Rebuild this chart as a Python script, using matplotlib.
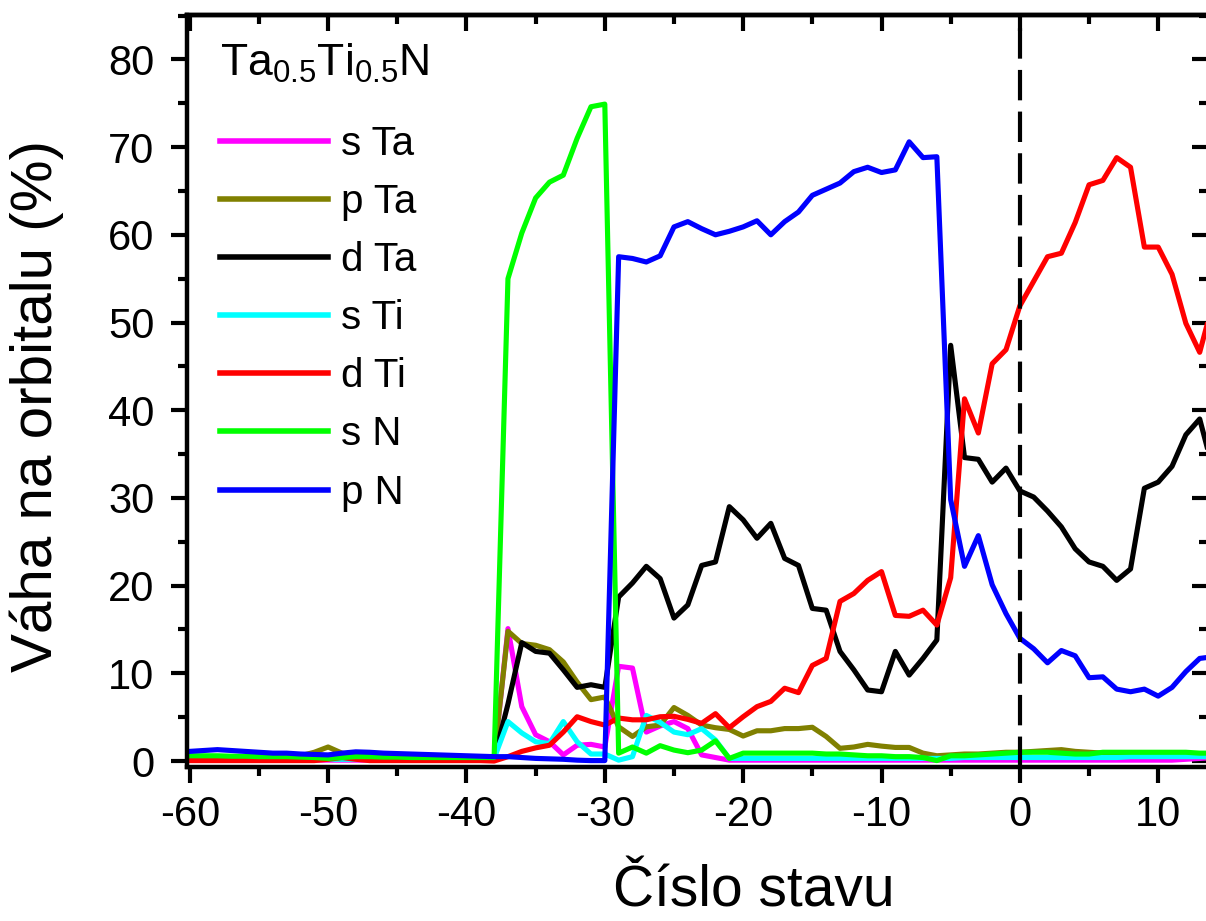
import numpy as np
import matplotlib
matplotlib.use("Agg")
import matplotlib.pyplot as plt
from matplotlib.ticker import MultipleLocator

plt.rcParams['font.family'] = ['Liberation Sans', 'DejaVu Sans']
plt.rcParams['mathtext.default'] = 'regular'
plt.rcParams['axes.unicode_minus'] = False

# state number
stav = np.arange(-60, 15)

# orbital weights (%)
# each list: states -60..-39 | -38..-21 | -20..-6 | -5..14
s_Ta = ([0.1] * 22
        + [0.2, 15.1, 6.2, 3.0, 2.2, 0.7, 1.8, 1.9, 1.6, 10.8, 10.6, 3.3, 4.0, 4.5, 3.7, 0.7, 0.4, 0.1]
        + [0.1] * 15
        + [0.1] * 17 + [0.2, 0.3, 0.4])
p_Ta = ([0.5] * 8 + [0.6, 1.0, 1.6, 0.9, 0.6] + [0.5] * 9
        + [0.4, 14.8, 13.4, 13.2, 12.7, 11.3, 9.0, 7.0, 7.3, 3.9, 2.8, 3.9, 4.1, 6.1, 5.2, 4.1, 3.8, 3.6]
        + [2.85, 3.45, 3.45, 3.7, 3.7, 3.85, 2.8, 1.45, 1.6, 1.9, 1.7, 1.55, 1.55, 0.9, 0.6]
        + [0.7, 0.8, 0.8, 0.9, 1.0, 1.0, 1.1, 1.2, 1.3, 1.1, 1.0, 0.9, 0.8, 0.8, 0.8, 0.8, 0.7, 0.7, 0.6, 0.6])
d_Ta = ([0.3] * 22
        + [0.3, 6.5, 13.5, 12.5, 12.3, 10.4, 8.4, 8.7, 8.4, 18.7, 20.3, 22.2, 20.8, 16.3, 17.8, 22.3, 22.7, 29.0]
        + [27.5, 25.4, 27.1, 23.1, 22.3, 17.4, 17.2, 12.5, 10.4, 8.1, 7.9, 12.5, 9.8, 11.7, 13.8]
        + [47.4, 34.6, 34.4, 31.8, 33.4, 30.8, 30.1, 28.5, 26.7, 24.2, 22.7, 22.2, 20.6, 21.9, 31.1,
           31.8, 33.6, 37.2, 39.0, 33.0])
s_Ti = ([0.2] * 22
        + [0.3, 4.5, 3.2, 2.2, 2.0, 4.5, 2.2, 0.8, 0.8, 0.1, 0.5, 5.2, 4.4, 3.3, 3.0, 3.7, 2.4, 0.3]
        + [0.3] * 15
        + [0.3] + [0.4] * 12 + [0.5] * 7)
d_Ti = ([0.05] * 10 + [0.2, 0.4, 0.2] + [0.05] * 9
        + [0.0, 0.5, 1.1, 1.5, 1.8, 3.3, 5.05, 4.5, 4.1, 4.9, 4.7, 4.7, 5.05, 5.1, 4.75, 4.3, 5.4, 3.8]
        + [5.05, 6.2, 6.8, 8.3, 7.8, 10.9, 11.7, 18.2, 19.1, 20.6, 21.6, 16.6, 16.5, 17.2, 15.5]
        + [20.9, 41.3, 37.4, 45.3, 46.9, 51.9, 54.7, 57.5, 57.9, 61.4, 65.7, 66.2, 68.8, 67.7, 58.6,
           58.6, 55.5, 49.9, 46.6, 52.5])
s_N = ([0.6, 0.6, 0.6, 0.55, 0.55, 0.5, 0.5, 0.5, 0.45, 0.4, 0.3, 0.4, 0.5, 0.5, 0.45, 0.45] + [0.4] * 6
       + [0.4, 55.0, 60.2, 64.2, 66.0, 66.8, 71.0, 74.6, 74.9, 0.9, 1.6, 0.9, 1.75, 1.25, 0.95, 1.25, 2.3, 0.3]
       + [0.9, 0.9, 0.9, 0.9, 0.9, 0.9, 0.8, 0.8, 0.7, 0.6, 0.6, 0.5, 0.5, 0.4, 0.05]
       + [0.6, 0.6, 0.7, 0.8, 0.9, 1.0, 1.0, 1.0, 0.9, 0.8, 0.8, 1.0, 1.0, 1.0, 1.0, 1.0, 1.0, 1.0, 0.9, 0.9])
p_N = ([1.1, 1.2, 1.3, 1.2, 1.1, 1.0, 0.9, 0.9, 0.8, 0.75, 0.7, 0.9, 1.05, 1.0, 0.9, 0.85, 0.8, 0.75,
        0.7, 0.65, 0.6, 0.55]
       + [0.5, 0.5, 0.4, 0.3, 0.25, 0.2, 0.1, 0.05, 0.05, 57.5, 57.3, 56.9, 57.6, 60.9, 61.5, 60.7, 60.0, 60.4]
       + [60.9, 61.6, 60.0, 61.5, 62.6, 64.5, 65.2, 65.9, 67.2, 67.7, 67.1, 67.4, 70.6, 68.8, 68.9]
       + [29.8, 22.2, 25.7, 20.1, 16.8, 14.0, 12.8, 11.2, 12.6, 12.0, 9.5, 9.6, 8.2, 7.9, 8.2,
          7.4, 8.4, 10.2, 11.7, 11.9])

labels = ['s Ta', 'p Ta', 'd Ta', 's Ti', 'd Ti', 's N', 'p N']
colors = ['#FF00FF', '#808000', '#000000', '#00FFFF', '#FF0000', '#00FF00', '#0000FF']

fig = plt.figure(figsize=(12.06, 9.21), dpi=100)
ax = fig.add_axes([187 / 1206, 154 / 921, 1021 / 1206, 752 / 921])

for y, lab, c in zip([s_Ta, p_Ta, d_Ta, s_Ti, d_Ti, s_N, p_N], labels, colors):
    ax.plot(stav, y, color=c, lw=3.7, label=lab)

ax.axvline(0, color='k', lw=3, dashes=(7.3, 2.7))

ax.set_xlim(-60.2, 13.6)
ax.set_ylim(-0.68, 85.06)
ax.xaxis.set_major_locator(MultipleLocator(10))
ax.xaxis.set_minor_locator(MultipleLocator(5))
ax.yaxis.set_major_locator(MultipleLocator(10))
ax.yaxis.set_minor_locator(MultipleLocator(5))
ax.tick_params(which='both', direction='out', width=3, labelsize=30)
ax.tick_params(axis='x', pad=8.5)
ax.tick_params(axis='y', pad=12)
ax.tick_params(which='major', length=11.5)
ax.tick_params(which='minor', length=6.5)
for sp in ax.spines.values():
    sp.set_linewidth(3.2)

# inward ticks on top and right
top = ax.secondary_xaxis('top')
top.xaxis.set_major_locator(MultipleLocator(10))
top.xaxis.set_minor_locator(MultipleLocator(5))
top.tick_params(which='both', direction='in', width=3, labeltop=False)
top.tick_params(which='major', length=11.5)
top.tick_params(which='minor', length=6.5)
top.spines['top'].set_linewidth(3.2)
right = ax.secondary_yaxis('right')
right.yaxis.set_major_locator(MultipleLocator(10))
right.yaxis.set_minor_locator(MultipleLocator(5))
right.tick_params(which='both', direction='in', width=3, labelright=False)
right.tick_params(which='major', length=11.5)
right.tick_params(which='minor', length=6.5)

xl = ax.set_xlabel('Číslo stavu', fontsize=41)
ax.xaxis.set_label_coords(0.555, -(906 - 767) / 752)
xl.set_va('baseline')
ax.set_ylabel('Váha na orbitalu (%)', fontsize=42)
ax.yaxis.set_label_coords(-(187 - 64) / 1021, 0.48)

leg = ax.legend(loc='upper left', bbox_to_anchor=(0.032, 0.965), frameon=False,
                title='Ta$_{0.5}$Ti$_{0.5}$N', title_fontsize=32, fontsize=29,
                alignment='left', handlelength=2.7, handletextpad=0.3,
                labelspacing=0.5, borderpad=0, borderaxespad=0)
leg._legend_box.sep = 29
for h in leg.get_lines():
    h.set_linewidth(4)

fig.savefig('out.png', dpi=100)
